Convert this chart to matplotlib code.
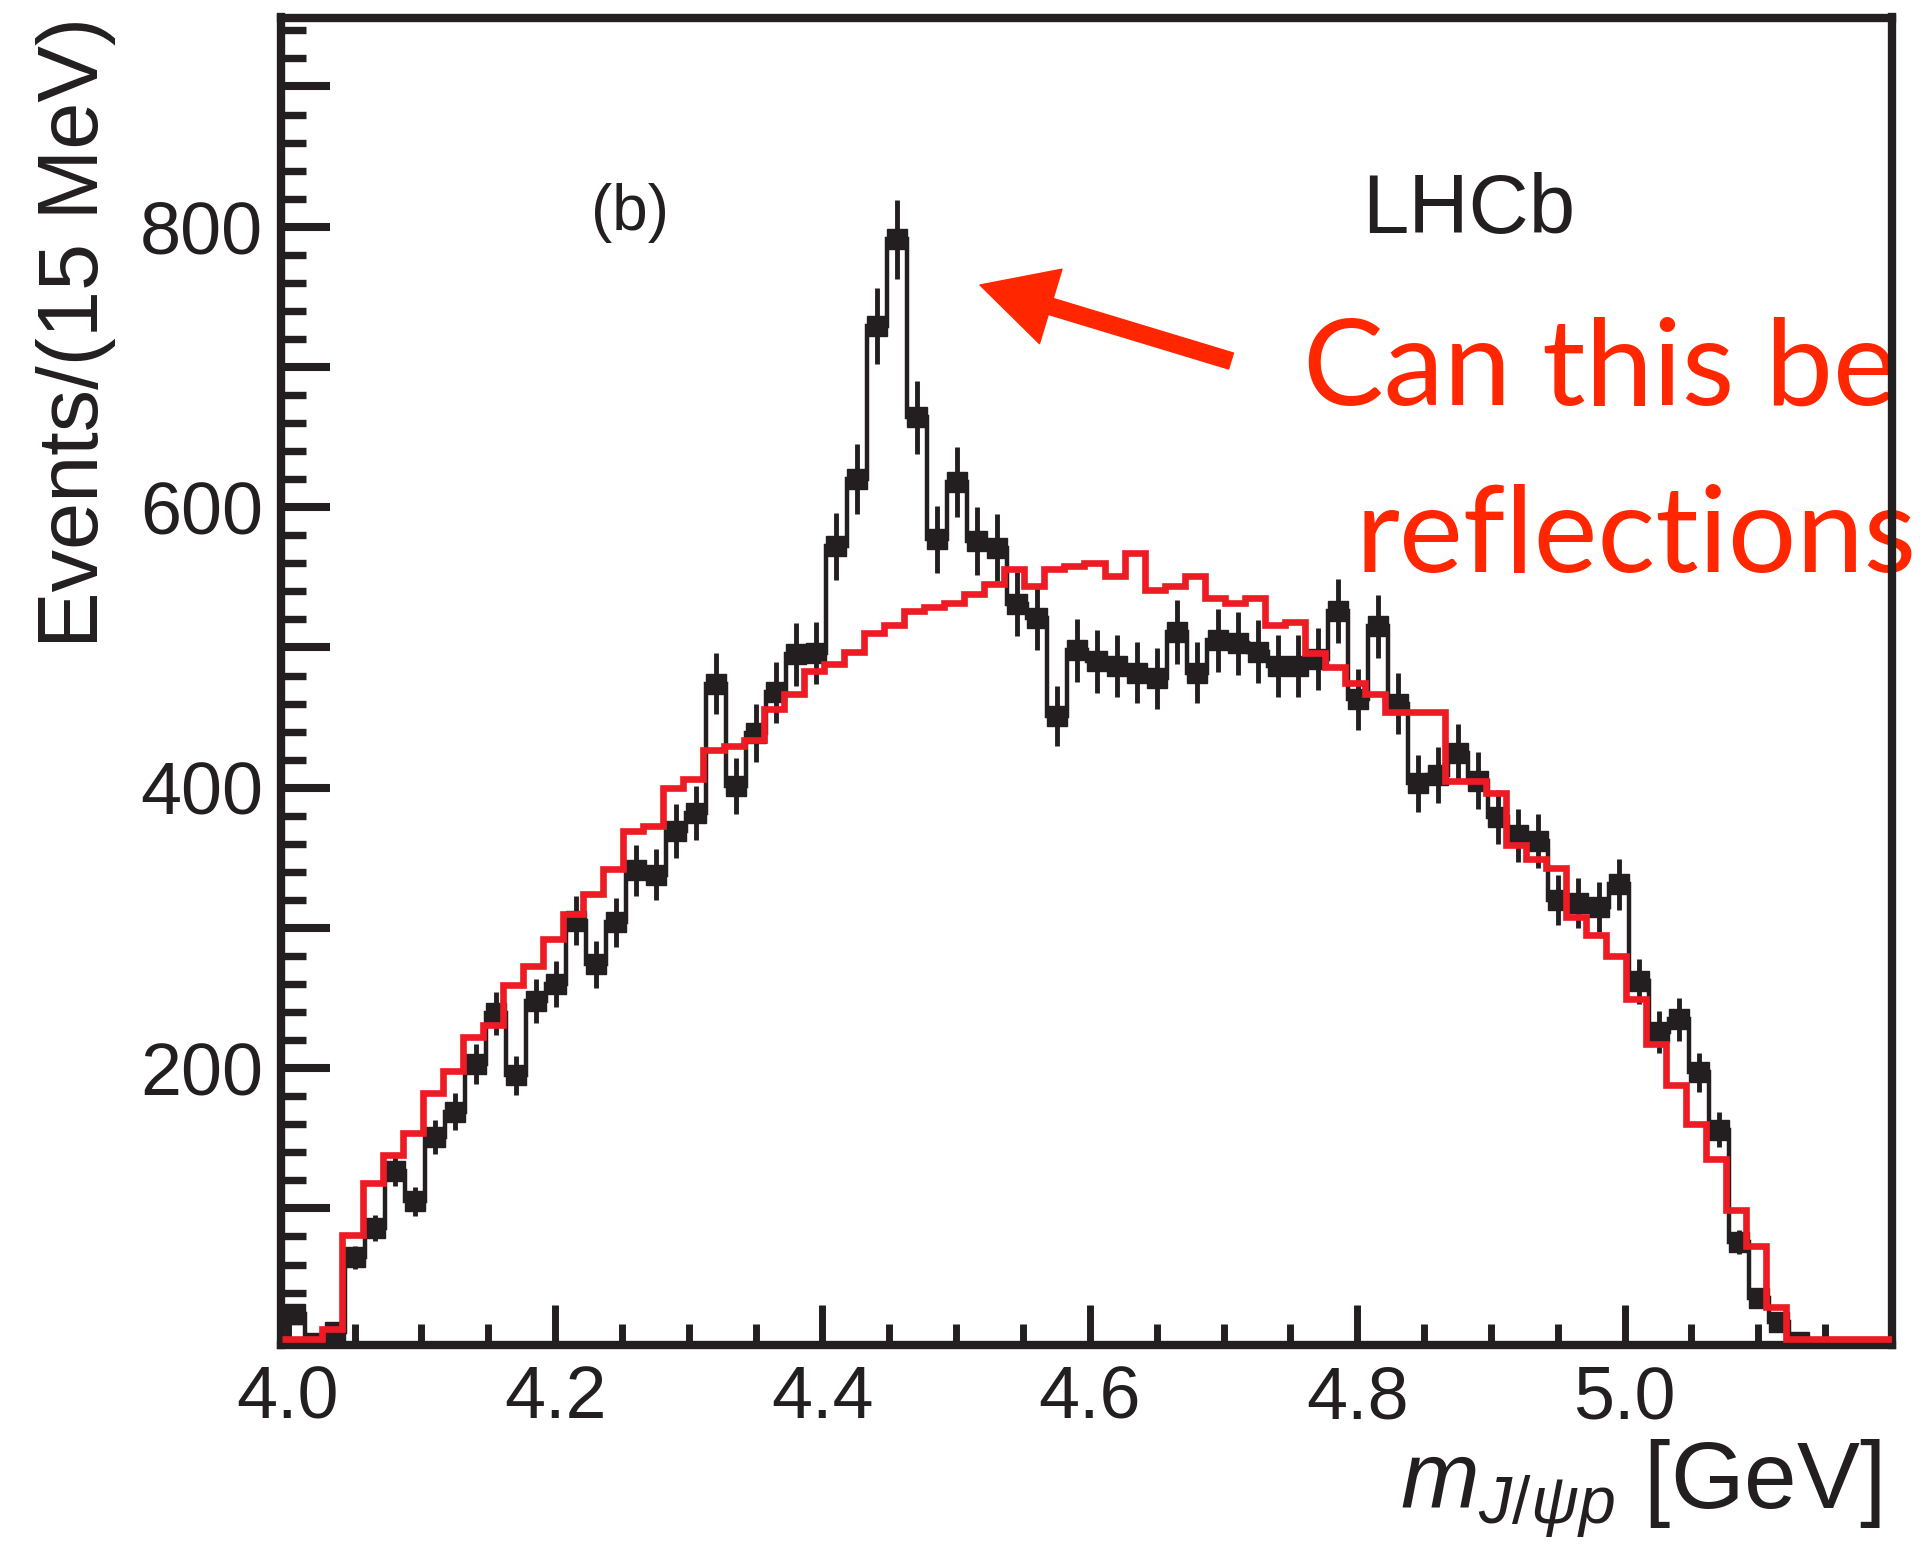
import numpy as np
import matplotlib
matplotlib.use("Agg")
import matplotlib.pyplot as plt
from matplotlib.ticker import MultipleLocator, FuncFormatter

# ---------------- data ----------------
bin_width = 0.015          # GeV (15 MeV)
black_start = 3.998        # first black bin edge
red_start = 3.996          # first red bin edge

# data histogram (events per 15 MeV)
black_counts = [25, 4, 12,
                65, 86, 127, 105, 151, 169, 203, 239, 195, 248,
                260, 305, 274, 304, 341, 338, 369, 382, 474, 401,
                439, 468, 495, 496, 572, 620, 729, 791, 664, 577,
                618, 576, 571, 531, 521, 451, 498, 490, 487, 482,
                478, 511, 482, 505, 503, 497, 487, 487, 492, 526,
                463, 515, 460, 403, 409, 425, 405, 379, 366, 362,
                320, 318, 315, 331, 262, 226, 235, 197, 156, 76,
                36, 19, 5]

# model / reflection histogram
red_counts = [7, 7, 14,
              81, 118, 138, 154, 182, 198, 222, 231, 259, 273,
              292, 310, 324, 342, 369, 373, 400, 406, 427, 430,
              434, 456, 467, 483, 488, 497, 510, 516, 526, 529,
              532, 538, 545, 556, 544, 556, 558, 560, 551, 567,
              541, 544, 551, 535, 532, 535, 516, 518, 496, 486,
              475, 467, 454, 454, 454, 405, 405, 396, 359, 349,
              343, 308, 295, 280, 249, 217, 188, 160, 135, 99,
              73, 30, 7, 7, 7, 7, 7, 7]

x_ticks = [4.0, 4.2, 4.4, 4.6, 4.8, 5.0]
y_labelled = [200, 400, 600, 800]

# ---------------- style ----------------
plt.rcParams['font.family'] = ['Liberation Sans', 'DejaVu Sans']
plt.rcParams['mathtext.fontset'] = 'custom'
plt.rcParams['mathtext.rm'] = 'Liberation Sans'
plt.rcParams['mathtext.it'] = 'Liberation Sans:italic'
plt.rcParams['mathtext.bf'] = 'Liberation Sans:bold'

BLACK = '#231f20'
RED = '#ed1c24'
ANNOT = '#ff2600'

W, H = 1920, 1547
fig = plt.figure(figsize=(W / 100, H / 100), dpi=100)
fig.patch.set_facecolor('white')

left, right, top, bottom = 281, 1892, 17.5, 1345
ax = fig.add_axes([left / W, 1 - bottom / H, (right - left) / W, (bottom - top) / H])

black_counts = np.asarray(black_counts, dtype=float)
red_counts = np.asarray(red_counts, dtype=float)
black_edges = black_start + bin_width * np.arange(len(black_counts) + 1)
black_centers = 0.5 * (black_edges[:-1] + black_edges[1:])
red_edges = red_start + bin_width * np.arange(len(red_counts) + 1)

ax.stairs(black_counts, black_edges, baseline=None, color=BLACK, lw=3.2, zorder=3)
ax.errorbar(black_centers, black_counts, yerr=np.sqrt(black_counts), fmt='s',
            color=BLACK, ms=15, elinewidth=3.5, capsize=0, zorder=3)
ax.stairs(red_counts, red_edges, baseline=None, color=RED, lw=4.8, zorder=4)

ax.set_xlim(3.995, 5.2)
ax.set_ylim(2.6, 949.2)

for sp in ax.spines.values():
    sp.set_linewidth(6)
    sp.set_color(BLACK)

ax.xaxis.set_major_locator(plt.FixedLocator(x_ticks))
ax.xaxis.set_minor_locator(MultipleLocator(0.05))
ax.xaxis.set_major_formatter(FuncFormatter(lambda v, p: f"{v:.1f}"))
ax.yaxis.set_major_locator(MultipleLocator(100))
ax.yaxis.set_minor_locator(MultipleLocator(20))
ax.yaxis.set_major_formatter(FuncFormatter(
    lambda v, p: f"{int(round(v))}" if int(round(v)) in y_labelled else ""))

ax.tick_params(axis='both', which='both', direction='in', top=False, right=False,
               color=BLACK, labelcolor=BLACK)
ax.tick_params(axis='y', which='major', length=35, width=5.8, pad=13, labelsize=53)
ax.tick_params(axis='y', which='minor', length=18, width=5.3)
ax.tick_params(axis='x', which='major', length=29, width=5, pad=14, labelsize=53)
ax.tick_params(axis='x', which='minor', length=15, width=5)

# ---------------- texts ----------------
fig.text(630 / W, 1 - 213 / H, '(b)', ha='center', va='center', fontsize=46, color=BLACK)
fig.text(1362 / W, 1 - 233 / H, 'LHCb', ha='left', va='baseline', fontsize=60, color=BLACK)

fig.text(1881 / W, 1 - 1508 / H, r'$m_{J/\psi p}$ [GeV]', ha='right', va='baseline',
         fontsize=68, color=BLACK)
fig.text(98 / W, 1 - 17 / H, 'Events/(15 MeV)', rotation=90, rotation_mode='anchor',
         ha='right', va='baseline', fontsize=61, color=BLACK)

annot_font = dict(family=['Lato', 'DejaVu Sans'], fontweight='normal', fontsize=87)
ax.text(1302.6 / W, 1 - 405 / H, 'Can this be', transform=fig.transFigure,
        ha='left', va='baseline', color=ANNOT, zorder=2, clip_on=False, **annot_font)
ax.text(1356 / W, 1 - 572 / H, 'reflections', transform=fig.transFigure,
        ha='left', va='baseline', color=ANNOT, zorder=2, clip_on=False, **annot_font)

ax.annotate('', xy=(980, H - 285), xytext=(1231, H - 361),
            xycoords='figure pixels', textcoords='figure pixels',
            arrowprops=dict(arrowstyle='simple,head_length=1.33,head_width=1.4,tail_width=0.3',
                            mutation_scale=40, color=ANNOT, shrinkA=0, shrinkB=0))

fig.savefig('out.png', dpi=100, facecolor='white')
